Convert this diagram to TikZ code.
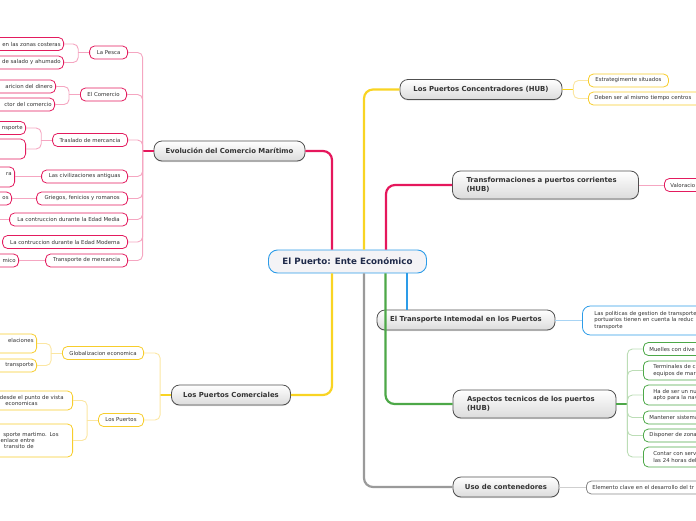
\documentclass[tikz,border=0pt]{standalone}
\usepackage{fontspec}
\setmainfont{DejaVu Sans}
\usetikzlibrary{shadows}

\definecolor{pinkmain}{HTML}{E5175C}
\definecolor{pinklite}{HTML}{F5A6C1}
\definecolor{pinkedge}{HTML}{E31B5E}
\definecolor{yelmain}{HTML}{F9D423}
\definecolor{yellite}{HTML}{FBE6A2}
\definecolor{yeledge}{HTML}{F7CD2C}
\definecolor{bluemain}{HTML}{2D9CE8}
\definecolor{bluelite}{HTML}{A8D4F4}
\definecolor{grnmain}{HTML}{4DA848}
\definecolor{grnlite}{HTML}{BCDDB6}
\definecolor{graymain}{HTML}{9A9A9A}
\definecolor{graylite}{HTML}{CFCFCF}
\definecolor{grayedge}{HTML}{8A8A8A}
\definecolor{rootfill}{HTML}{F4F3F6}
\definecolor{rootink}{HTML}{1F2A4A}
\definecolor{topicline}{HTML}{505050}
\definecolor{inkgray}{HTML}{333333}

\tikzset{
    rootbox/.style={draw=bluemain, fill=rootfill, line width=0.9pt, rounded corners=9pt,
        font=\fontsize{8.7}{10}\selectfont\bfseries, text=rootink, minimum width=158pt, minimum height=23pt},
    topicbox/.style={draw=topicline, top color=white, bottom color=gray!28, line width=0.8pt,
        rounded corners=8pt, font=\fontsize{6.9}{8.4}\selectfont\bfseries, text=inkgray,
        minimum height=20pt, inner xsep=8pt,
        drop shadow={shadow xshift=0pt, shadow yshift=-1pt, opacity=0.25}},
    topictwo/.style={topicbox, text width=#1, align=left, inner xsep=14pt, minimum height=28pt},
    leafbox/.style={draw=#1, fill=white, line width=0.8pt, rounded corners=5pt,
        font=\fontsize{5.4}{6.3}\selectfont, text=inkgray, minimum height=13pt,
        inner xsep=7pt, inner ysep=2pt},
    cutl/.style={leafbox=#1, anchor=east, text width=120pt, align=right, inner xsep=3pt},
    cutr/.style={leafbox=#1, anchor=west, text width=150pt, align=left, inner xsep=6pt},
    branch/.style={line width=2.2pt, rounded corners=9pt, #1},
    twig/.style={line width=0.9pt, rounded corners=5pt, #1},
}

\begin{document}
\begin{tikzpicture}[x=1pt, y=-1pt]
    \useasboundingbox (0,0) rectangle (696,520);
    \clip (0,0) rectangle (696,520);

    \node[rootbox] (cen) at (347.5,261.5) {El Puerto: Ente Económico};

    \node[topicbox, minimum width=151pt] (evo) at (229.5,151) {Evolución del Comercio Marítimo};
    \node[topicbox, minimum width=119pt] (com) at (231,395) {Los Puertos Comerciales};
    \node[topicbox, minimum width=162pt] (hub) at (481,89.5) {Los Puertos Concentradores (HUB)};
    \node[topictwo=158pt] (tra) at (545.5,185) {Transformaciones a puertos corrientes\\(HUB)};
    \node[topicbox, minimum width=178pt] (int) at (466,320) {El Transporte Intemodal en los Puertos};
    \node[topictwo=135pt] (asp) at (534.5,404) {Aspectos tecnicos de los puertos\\(HUB)};
    \node[topicbox, minimum width=106pt] (uso) at (506,487) {Uso de contenedores};

    % evolucion
    \node[leafbox=pinkedge, anchor=east, minimum width=38pt] (pesca) at (128,52.5) {La Pesca};
    \node[leafbox=pinkedge, anchor=east, minimum width=46pt] (comer) at (127,94.5) {El Comercio};
    \node[leafbox=pinkedge, anchor=east, minimum width=75pt] (trasl) at (128,140) {Traslado de mercancia};
    \node[leafbox=pinkedge, anchor=east, minimum width=86pt] (civil) at (128,176.5) {Las civilizaciones antiguas};
    \node[leafbox=pinkedge, anchor=east, minimum width=91pt] (grieg) at (128,198.5) {Griegos, fenicios y romanos};
    \node[leafbox=pinkedge, anchor=east, minimum width=118pt] (media) at (128,219.5) {La contruccion durante la Edad Media};
    \node[leafbox=pinkedge, anchor=east, minimum width=125pt] (moder) at (128,242) {La contruccion durante la Edad Moderna};
    \node[leafbox=pinkedge, anchor=east, minimum width=82pt] (trans) at (128,260.5) {Transporte de mercancia};

    \node[cutl=pinkedge] (pescaa) at (64,44) {en las zonas costeras};
    \node[cutl=pinkedge] (pescab) at (64,62.5) {de salado y ahumado};
    \node[cutl=pinkedge] (comera) at (56,86.5) {aricion del dinero};
    \node[cutl=pinkedge] (comerb) at (55,104.5) {ctor del comercio};
    \node[cutl=pinkedge] (trasla) at (26,128) {nsporte};
    \node[cutl=pinkedge, minimum height=20pt] (traslb) at (26,149) {\mbox{}};
    \node[cutl=pinkedge, minimum height=20pt] (civila) at (15,177) {ra\\\mbox{}};
    \node[cutl=pinkedge] (griega) at (12,198.5) {os};
    \node[cutl=pinkedge] (transa) at (19,260.5) {mico};
    \coordinate (mediax) at (-20,219.5);

    % comerciales
    \node[leafbox=yeledge, anchor=east, minimum width=80pt] (glob) at (144,353) {Globalizacion economica};
    \node[leafbox=yeledge, anchor=east, minimum width=45pt] (lospu) at (144,420) {Los Puertos};
    \node[cutl=yeledge, minimum height=19pt] (globa) at (37,343.5) {elaciones\\\mbox{}};
    \node[cutl=yeledge] (globb) at (37,365.5) {transporte};
    \node[cutl=yeledge, minimum height=19pt, inner xsep=9pt] (lospa) at (73,400.5)
        {desde el punto de vista\\economicas\rule{26pt}{0pt}};
    \node[cutl=yeledge, minimum height=33pt, inner xsep=14pt] (lospb) at (73,440.5)
        {sporte martimo. Los\\enlace entre\rule{24pt}{0pt}\\transito de\rule{25pt}{0pt}};

    % right side
    \node[leafbox=yeledge, anchor=west, minimum width=80pt] (hubs) at (588,80.5) {Estrategimente situados};
    \node[cutr=yeledge] (hubc) at (588,98.5) {Deben ser al mismo tiempo centros};
    \node[cutr=pinkedge] (valor) at (664,185) {Valoracio};
    \node[cutr=bluemain, minimum height=29pt, inner xsep=12pt, rounded corners=8pt] (polit) at (582,320.5)
        {Las politicas de gestion de transporte\\portuarios tienen en cuenta la reduc\\transporte};
    \node[cutr=grnmain] (muell) at (643,349) {Muelles con dive};
    \node[cutr=grnmain, minimum height=19pt, inner xsep=10pt] (termi) at (643,370.5) {Terminales de c\\equipos de mar};
    \node[cutr=grnmain, minimum height=20pt, inner xsep=10pt] (hader) at (643,395) {Ha de ser un nu\\apto para la nav};
    \node[cutr=grnmain] (mante) at (643,417.5) {Mantener sistema};
    \node[cutr=grnmain] (dispo) at (643,435.5) {Disponer de zona};
    \node[cutr=grnmain, minimum height=20pt, inner xsep=10pt] (conta) at (643,457) {Contar con serv\\las 24 horas del};
    \node[cutr=grayedge] (eleme) at (586,487.5) {Elemento clave en el desarrollo del tr};

    % main branches
    \draw[branch=pinkmain] ([xshift=-15.5pt]cen.north) |- (evo.east);
    \draw[branch=yelmain] ([xshift=16.5pt]cen.north) |- (hub.west);
    \draw[branch=pinkmain] ([xshift=38.5pt]cen.north) |- (tra.west);
    \draw[branch=yelmain] ([xshift=-15.5pt]cen.south) |- (com.east);
    \draw[branch=graymain] ([xshift=16.5pt]cen.south) |- (uso.west);
    \draw[branch=grnmain] ([xshift=38pt]cen.south) |- (asp.west);
    \coordinate (intj) at ([xshift=59.5pt]cen.south);
    \draw[branch=bluemain] (intj) -- (intj |- int.north);

    % sub branches
    \coordinate (evoj) at ([xshift=-11pt]evo.west);
    \draw[branch=pinkmain, line width=1.4pt] (evo.west) -- (evoj);
    \foreach \n in {pesca,comer,trasl,civil,grieg,media,moder,trans}
        \draw[twig=pinklite] (evoj) |- (\n.east);
    \coordinate (pescaj) at ([xshift=-11pt]pesca.west);
    \draw[twig=pinklite] (pesca.west) -- (pescaj);
    \foreach \n in {pescaa,pescab}
        \draw[twig=pinklite] (pescaj) |- (\n.east);
    \coordinate (comerj) at ([xshift=-11pt]comer.west);
    \draw[twig=pinklite] (comer.west) -- (comerj);
    \foreach \n in {comera,comerb}
        \draw[twig=pinklite] (comerj) |- (\n.east);
    \coordinate (traslj) at ([xshift=-11pt]trasl.west);
    \draw[twig=pinklite] (trasl.west) -- (traslj);
    \foreach \n in {trasla,traslb}
        \draw[twig=pinklite] (traslj) |- (\n.east);
    \draw[twig=pinklite] (civil.west) -- (civil.west -| civila.east);
    \draw[twig=pinklite] (grieg.west) -- (griega.east);
    \draw[twig=pinklite] (media.west) -- (mediax);
    \draw[twig=pinklite] (trans.west) -- (transa.east);

    \coordinate (comj) at ([xshift=-11pt]com.west);
    \draw[branch=yelmain, line width=1.4pt] (com.west) -- (comj);
    \foreach \n in {glob,lospu}
        \draw[twig=yellite] (comj) |- (\n.east);
    \coordinate (globj) at ([xshift=-11pt]glob.west);
    \draw[twig=yellite] (glob.west) -- (globj);
    \foreach \n in {globa,globb}
        \draw[twig=yellite] (globj) |- (\n.east);
    \coordinate (lospuj) at ([xshift=-11pt]lospu.west);
    \draw[twig=yellite] (lospu.west) -- (lospuj);
    \foreach \n in {lospa,lospb}
        \draw[twig=yellite] (lospuj) |- (\n.east);

    \coordinate (hubj) at ([xshift=11pt]hub.east);
    \draw[branch=yelmain, line width=1.4pt] (hub.east) -- (hubj);
    \foreach \n in {hubs,hubc}
        \draw[twig=yellite] (hubj) |- (\n.west);
    \draw[twig=pinklite] (tra.east) -- (valor.west);
    \draw[twig=bluelite] (int.east) -- (int.east -| polit.west);
    \coordinate (aspj) at ([xshift=11pt]asp.east);
    \draw[branch=grnmain, line width=1.4pt] (asp.east) -- (aspj);
    \foreach \n in {muell,termi,hader,mante,dispo,conta}
        \draw[twig=grnlite] (aspj) |- (\n.west);
    \draw[twig=graylite] (uso.east) -- (uso.east -| eleme.west);
\end{tikzpicture}
\end{document}
